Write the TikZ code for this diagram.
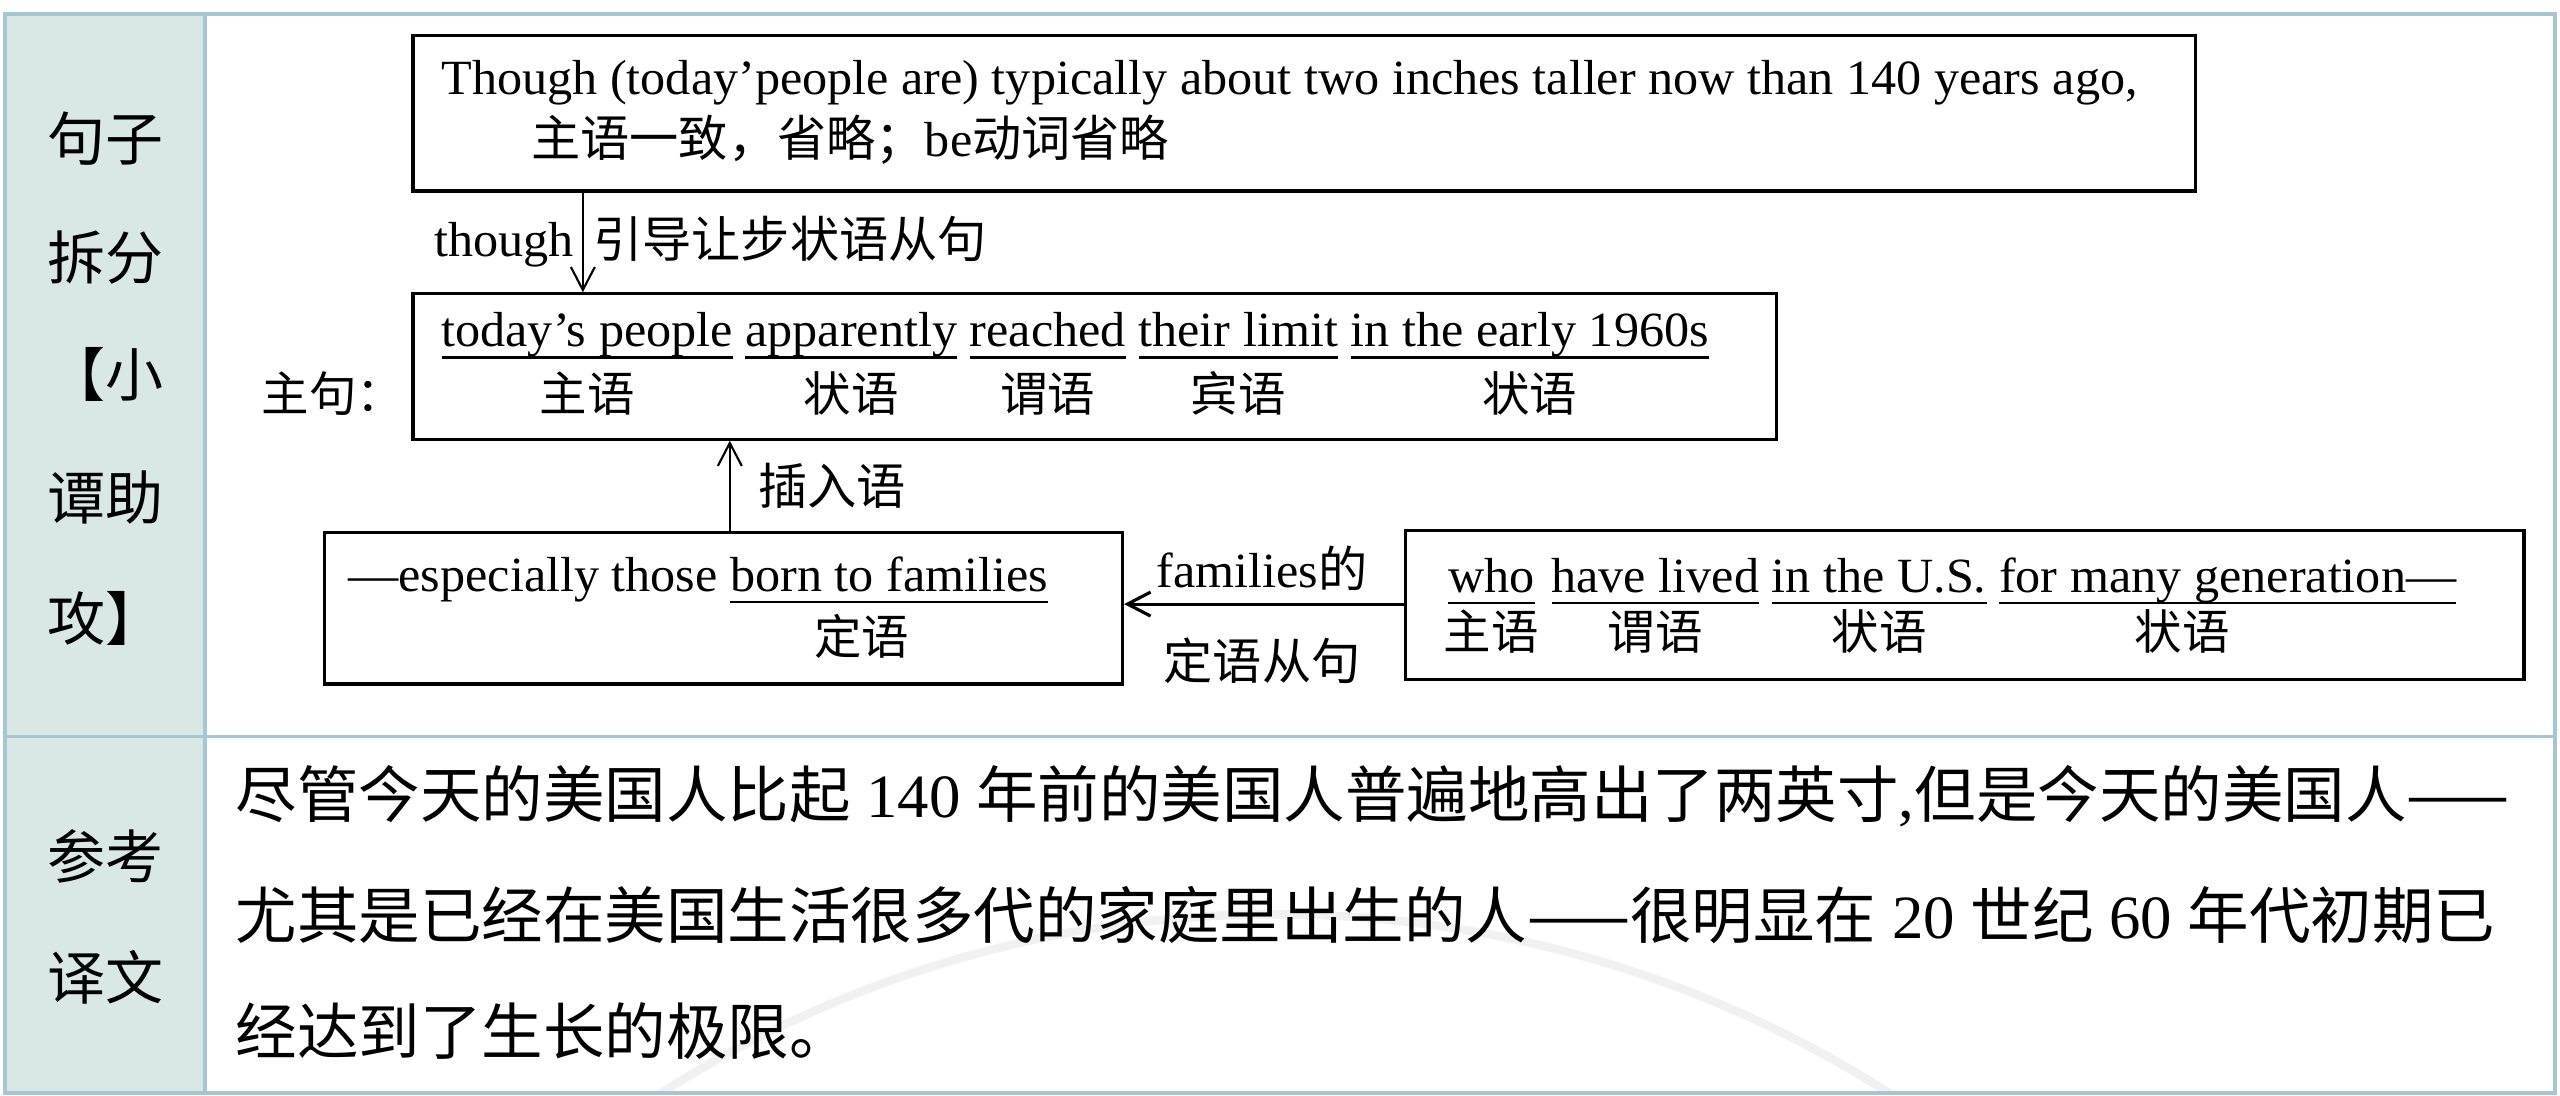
\documentclass[tikz,border=0pt]{standalone}
\usepackage{fontspec}
\setmainfont{Liberation Serif}[FakeStretch=1.02]
\newfontfamily\cjk{Noto Sans CJK SC}
\usetikzlibrary{arrows.meta}
\definecolor{framecol}{HTML}{A6C6D3}
\definecolor{colfill}{HTML}{D9E8E4}
\definecolor{wmark}{HTML}{F1F1F1}
\newcommand\zh[1]{{\cjk #1}}
\newcommand\zhs[1]{{\cjk\fontsize{13.5}{16}\selectfont #1}}
\newcommand\ulw[1]{\setbox0\hbox{#1}\rlap{\rule[-3.3pt]{\wd0}{0.6pt}}\box0}
\newcommand\pxl[1]{#1*0.0163265cm}
\begin{document}
\begin{tikzpicture}[x=0.0163265cm,y=-0.0163265cm,
  boxn/.style={draw=black, line width=0.9pt, inner sep=0pt, anchor=north west},
  txt/.style={inner sep=0pt, anchor=base west},
  lab/.style={inner sep=0pt, anchor=base},
  sidelab/.style={inner sep=0pt, anchor=base, font=\cjk\fontsize{16.5}{20}\selectfont},
  boxfont/.style={font=\fontsize{14}{16}\selectfont},
  arr/.style={line width=0.6pt, -{Straight Barb[length=2.3mm,width=2.4mm]}},
]
\useasboundingbox (0,0) rectangle (1568,671.3);
\fill[white] (0,0) rectangle (1568,671.3);
% table background
\fill[colfill] (3,8.5) rectangle (125.5,669.5);
% watermark arc
\begin{scope}
\clip (125.5,451) rectangle (1565,669.5);
\draw[wmark, line width=2.4pt] (781,1260) circle[radius=700];
\end{scope}
% table frame
\draw[framecol, line width=1pt] (3,8.5) rectangle (1565,669.5);
\draw[framecol, line width=1pt] (3,451) -- (1565,451);
\draw[framecol, line width=1pt] (125.5,8.5) -- (125.5,669.5);

% side labels
\node[sidelab] (s1) at (64.5,98) {句子};
\node[sidelab] (s2) at (64.5,171) {拆分};
\node[sidelab] (s3) at (64.5,243) {【小};
\node[sidelab] (s4) at (64.5,318) {谭助};
\node[sidelab] (s5) at (64.5,392) {攻】};
\node[sidelab] (s6) at (64.5,538) {参考};
\node[sidelab] (s7) at (64.5,612) {译文};

% boxes
\node[boxn, minimum width=\pxl{1092}, minimum height=\pxl{95}] (topbox) at (252,21) {};
\node[boxn, minimum width=\pxl{835}, minimum height=\pxl{89}] (mainbox) at (252,179) {};
\node[boxn, minimum width=\pxl{488.6}, minimum height=\pxl{93}] (subbox) at (198,325) {};
\node[boxn, minimum width=\pxl{685}, minimum height=\pxl{91}] (relbox) at (860,324) {};

% top box text
\node[txt, boxfont] (t1) at (270,58) {Though (today'people are) typically about two inches taller now than 140 years ago,};
\node[txt, boxfont] (t2) at (325,96) {\zh{主语一致，省略；}be\zh{动词省略}};

% arrow 1 and label
\coordinate (ax1) at (357,0);
\draw[arr] (topbox.south -| ax1) -- (mainbox.north -| ax1);
\node[txt, boxfont, anchor=base east] (l1a) at (352,157) {though};
\node[txt, boxfont] (l1b) at (363,158) {\zh{引导让步状语从句}};

% main clause
\node[txt, font=\cjk\fontsize{13.5}{16}\selectfont] (zhuju) at (160,252) {主句：};
\node[txt, font=\fontsize{14}{18.3}\selectfont] (mainrow) at (270,212.5) {\begin{tabular}[t]{@{}c@{\hspace{3.6pt}}c@{\hspace{3.6pt}}c@{\hspace{3.6pt}}c@{\hspace{3.6pt}}c@{}}
\ulw{today's people} & \ulw{apparently} & \ulw{reached} & \ulw{their limit} & \ulw{in the early 1960s}\\
\zhs{主语} & \zhs{状语} & \zhs{谓语} & \zhs{宾语} & \zhs{状语}
\end{tabular}};

% arrow 2 and label
\coordinate (ax2) at (447,0);
\draw[arr] (subbox.north -| ax2) -- (mainbox.south -| ax2);
\node[txt, boxfont] (l2) at (464,309) {\zh{插入语}};

% sub box
\node[txt, font=\fontsize{14}{18}\selectfont] (subrow) at (213,362) {\begin{tabular}[t]{@{}l@{\hspace{3.6pt}}c@{}}
---especially those & \ulw{born to families}\\
 & \zhs{定语}\hspace{15.8pt}
\end{tabular}};

% arrow 3 and labels
\coordinate (ay3) at (0,370);
\draw[arr, line width=0.9pt] (relbox.west |- ay3) -- (subbox.east |- ay3);
\node[lab, boxfont] (l3a) at (773,360) {families\zh{的}};
\node[lab, boxfont] (l3b) at (773,416) {\zh{定语从句}};

% relative clause box
\node[txt, font=\fontsize{14}{16.2}\selectfont] (relrow) at (884,363) {\begin{tabular}[t]{@{}c@{\hspace{3.6pt}}c@{\hspace{3.6pt}}c@{\hspace{3.6pt}}c@{}}
\ulw{who} & \ulw{have lived} & \ulw{in the U.S.} & \ulw{for many generation---}\\
\zhs{主语} & \zhs{谓语} & \zhs{状语} & \zhs{状语}\hspace{26pt}
\end{tabular}};

% translation
\node[txt, font=\fontsize{17.5}{20}\selectfont] (p1) at (144,501) {\zh{尽管今天的美国人比起} 140 \zh{年前的美国人普遍地高出了两英寸},\zh{但是今天的美国人——}};
\node[txt, font=\fontsize{17.5}{20}\selectfont] (p2) at (144,575) {\zh{尤其是已经在美国生活很多代的家庭里出生的人——很明显在} 20 \zh{世纪} 60 \zh{年代初期已}};
\node[txt, font=\fontsize{17.5}{20}\selectfont] (p3) at (144,646) {\zh{经达到了生长的极限。}};
\end{tikzpicture}
\end{document}
